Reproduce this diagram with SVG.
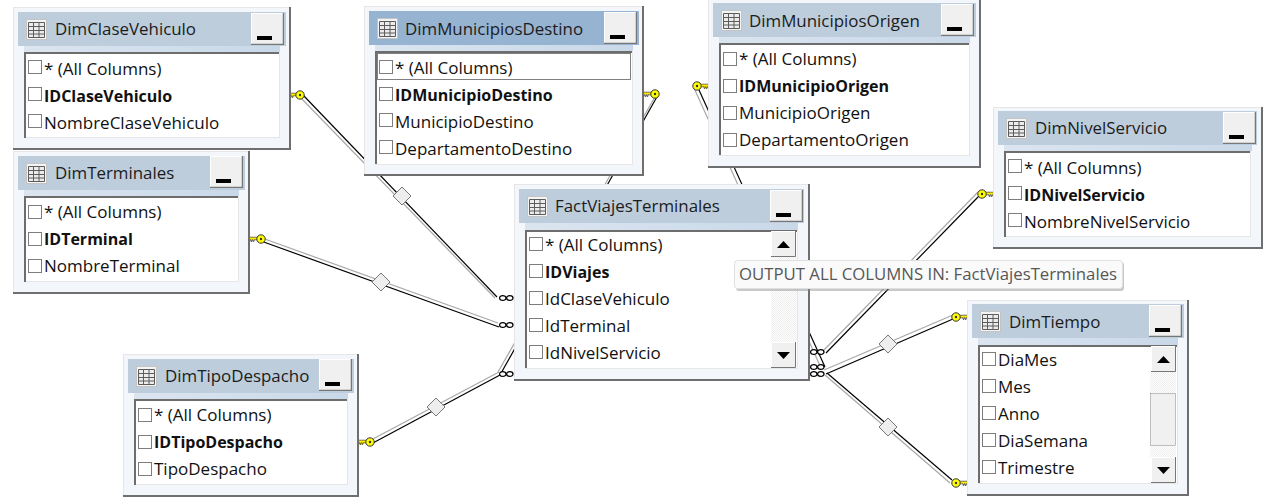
<svg xmlns="http://www.w3.org/2000/svg" width="1276" height="500" viewBox="0 0 1276 500">
<style>
text{font-family:"Open Sans","Noto Sans","Liberation Sans",sans-serif;font-size:17px;fill:#111}
.b{font-weight:700;font-size:16px}
.t{font-size:16.900px;fill:#1c1c1c}
.fr{fill:#f3f6fb;stroke:#e6e6e6;stroke-width:1}
.frd{fill:none;stroke:#6f6f6f;stroke-width:2}
.hd{fill:#bdcddb}
.hds{fill:#96b3d1}
.st{fill:url(#strip)}
.ls{fill:#fff;stroke:#e6e6e6;stroke-width:1}
.lsd{fill:none;stroke:#6d6d6d;stroke-width:2}
.cb{fill:#fff;stroke:#7d7d7d;stroke-width:1}
.g{fill:none;stroke:#a8a8a8;stroke-width:1.2}
.k{fill:none;stroke:#000;stroke-width:1.2}
.hatch{fill:url(#dither)}
.tip{fill:#fafafa;stroke:#e0e0e0;stroke-width:1}
.tipt{fill:#575757;font-size:16.750px}
</style>
<defs>
<linearGradient id="strip" x1="0" y1="0" x2="1" y2="0"><stop offset="0" stop-color="#dbe5f0"/><stop offset="1" stop-color="#c9d8e8"/></linearGradient>
<pattern id="dither" width="2" height="2" patternUnits="userSpaceOnUse"><rect width="2" height="2" fill="#fff"/><rect width="1" height="1" fill="#eee"/><rect x="1" y="1" width="1" height="1" fill="#eee"/></pattern>
<symbol id="ico" width="21" height="21" viewBox="0 0 21 21" overflow="visible">
<rect x=".5" y=".5" width="20" height="20" fill="#f4f4f4" stroke="#c4c4c4"/>
<path d="M2.5 3.5H18.5V18.5H2.5ZM2.5 7.5H18.5M2.5 11.5H18.5M2.5 15H18.5M7.5 3.5V18.5M13 3.5V18.5" fill="#ececec" stroke="#5c5c5c"/>
</symbol>
<symbol id="btn" width="33" height="32" viewBox="0 0 33 32">
<rect width="33" height="32" fill="#f0f0f0"/>
<path d="M.5 31V.5H32" fill="none" stroke="#fff"/>
<path d="M0 31.5H32.5V0" fill="none" stroke="#777" stroke-width="1.5"/>
<rect x="6" y="23" width="15" height="4" fill="#000"/>
</symbol>
<symbol id="up" width="25" height="26" viewBox="0 0 25 26">
<rect width="25" height="26" fill="#f0f0f0"/>
<path d="M.5 25V.5H24" fill="none" stroke="#fff"/>
<path d="M0 25.5H24.5V0" fill="none" stroke="#777"/>
<path d="M6 17H19L12.500 10Z" fill="#000"/>
</symbol>
<symbol id="dn" width="25" height="26" viewBox="0 0 25 26">
<rect width="25" height="26" fill="#f0f0f0"/>
<path d="M.5 25V.5H24" fill="none" stroke="#fff"/>
<path d="M0 25.5H24.5V0" fill="none" stroke="#777"/>
<path d="M6 10H19L12.500 17Z" fill="#000"/>
</symbol>
<g id="key"><path d="M3 -1.800H13V.8H12V2.400H11V.8H10V2.400H9V.8H8V2.400H7V.8H3Z" fill="#ffea00" stroke="#222" stroke-width=".6"/><circle r="4.200" fill="#ffff00" stroke="#333" stroke-width="1"/><circle r="1.200" fill="#333"/></g>
<g id="inf"><ellipse cx="3.800" cy="0" rx="3.200" ry="2.400" fill="#fff" stroke="#000" stroke-width="1.300"/><ellipse cx="10.800" cy="0" rx="3.200" ry="2.400" fill="#fff" stroke="#000" stroke-width="1.300"/></g>
<g id="dia"><path d="M0 -9L9 0L0 9L-9 0Z" fill="#eee" stroke="#777"/></g>
</defs>

<rect width="1276" height="500" fill="#fff"/>

<g id="connectors">
<path class="g" d="M300 97L495 298"/><path class="k" d="M303 95L497 297"/>
<path class="g" d="M262 238L498 323"/><path class="k" d="M261 241L499 327"/>
<path class="g" d="M371 440L499 372"/><path class="k" d="M371 444L500 375"/>
<path class="g" d="M656 95L498 372"/><path class="k" d="M658 95L500 375"/>
<path class="g" d="M694 88L822 370"/><path class="k" d="M699 90L825 367"/>
<path class="g" d="M978 192L824 350"/><path class="k" d="M979 196L826 353"/>
<path class="g" d="M953 315L824 370"/><path class="k" d="M953 319L826 374"/>
<path class="g" d="M950 483L825 375"/><path class="k" d="M952 480L827 373"/>
<use href="#dia" x="402" y="196"/>
<use href="#dia" x="381" y="282"/>
<use href="#dia" x="436" y="407"/>
<use href="#dia" x="888" y="344"/>
<use href="#dia" x="888" y="427"/>
<use href="#inf" x="499" y="298"/>
<use href="#inf" x="499" y="325"/>
<use href="#inf" x="499" y="374"/>
<use href="#inf" x="810" y="352"/>
<use href="#inf" x="810" y="367"/>
<use href="#inf" x="810" y="374"/>
<use href="#key" transform="translate(300 95) scale(-1 1)"/>
<use href="#key" transform="translate(261 239) scale(-1 1)"/>
<use href="#key" transform="translate(370 442) scale(-1 1)"/>
<use href="#key" transform="translate(655 94) scale(-1 1)"/>
<use href="#key" x="697" y="86"/>
<use href="#key" x="982" y="194"/>
<use href="#key" x="956" y="317"/>
<use href="#key" x="956" y="483"/>
</g>

<g id="DimClaseVehiculo">
<rect class="fr" x="13.500" y="7.500" width="276" height="141"/><path class="frd" d="M13 149H290V7"/>
<rect class="hd" x="18" y="12" width="268" height="34"/><rect class="st" x="24" y="46" width="256" height="6"/>
<use href="#ico" x="26" y="19"/><text class="t" x="55" y="35">DimClaseVehiculo</text><use href="#btn" x="251" y="13"/>
<rect class="ls" x="24.500" y="52.500" width="255" height="85"/><path class="lsd" d="M25 138V53H279"/>
<rect class="cb" x="28.500" y="60.500" width="13" height="13"/><text x="44" y="75">* (All Columns)</text>
<rect class="cb" x="28.500" y="87.500" width="13" height="13"/><text class="b" x="44" y="102">IDClaseVehiculo</text>
<rect class="cb" x="28.500" y="114.500" width="13" height="13"/><text x="44" y="129">NombreClaseVehiculo</text>
</g>

<g id="DimTerminales">
<rect class="fr" x="13.500" y="151.500" width="235" height="141"/><path class="frd" d="M13 293H249V151"/>
<rect class="hd" x="18" y="156" width="227" height="34"/><rect class="st" x="24" y="190" width="215" height="6"/>
<use href="#ico" x="26" y="163"/><text class="t" x="55" y="179">DimTerminales</text><use href="#btn" x="210" y="156"/>
<rect class="ls" x="24.500" y="196.500" width="214" height="85"/><path class="lsd" d="M25 282V197H238"/>
<rect class="cb" x="28.500" y="205.500" width="13" height="13"/><text x="44" y="218">* (All Columns)</text>
<rect class="cb" x="28.500" y="232.500" width="13" height="13"/><text class="b" x="44" y="245">IDTerminal</text>
<rect class="cb" x="28.500" y="259.500" width="13" height="13"/><text x="44" y="272">NombreTerminal</text>
</g>

<g id="DimTipoDespacho">
<rect class="fr" x="123.500" y="354.500" width="234" height="141"/><path class="frd" d="M123 496H358V354"/>
<rect class="hd" x="128" y="359" width="226" height="34"/><rect class="st" x="134" y="393" width="214" height="6"/>
<use href="#ico" x="136" y="366"/><text class="t" x="165" y="382">DimTipoDespacho</text><use href="#btn" x="319" y="359"/>
<rect class="ls" x="134.500" y="399.500" width="213" height="85"/><path class="lsd" d="M135 485V400H347"/>
<rect class="cb" x="138.500" y="408.500" width="13" height="13"/><text x="154" y="421">* (All Columns)</text>
<rect class="cb" x="138.500" y="435.500" width="13" height="13"/><text class="b" x="154" y="448">IDTipoDespacho</text>
<rect class="cb" x="138.500" y="462.500" width="13" height="13"/><text x="154" y="475">TipoDespacho</text>
</g>

<g id="DimMunicipiosDestino">
<rect class="fr" x="364.500" y="6.500" width="278" height="168"/><path class="frd" d="M364 175H643V6"/>
<rect class="hds" x="369" y="11" width="270" height="34"/><rect class="st" x="375" y="45" width="258" height="6"/>
<use href="#ico" x="377" y="18"/><text class="t" x="405" y="35">DimMunicipiosDestino</text><use href="#btn" x="604" y="12"/>
<rect class="ls" x="375.500" y="51.500" width="257" height="113"/><path class="lsd" d="M376 164V52H632"/>
<rect x="377.500" y="53.500" width="253" height="26" fill="none" stroke="#000" stroke-dasharray="1 1"/>
<rect class="cb" x="379.500" y="60.500" width="13" height="13"/><text x="395" y="74">* (All Columns)</text>
<rect class="cb" x="379.500" y="87.500" width="13" height="13"/><text class="b" x="395" y="101">IDMunicipioDestino</text>
<rect class="cb" x="379.500" y="113.500" width="13" height="13"/><text x="395" y="128">MunicipioDestino</text>
<rect class="cb" x="379.500" y="140.500" width="13" height="13"/><text x="395" y="155">DepartamentoDestino</text>
</g>

<g id="DimMunicipiosOrigen">
<rect class="fr" x="708.500" y="-.5" width="271" height="167"/><path class="frd" d="M708 167H980V-1"/>
<rect class="hd" x="713" y="3" width="263" height="34"/><rect class="st" x="719" y="37" width="251" height="6"/>
<use href="#ico" x="721" y="10"/><text class="t" x="749" y="27">DimMunicipiosOrigen</text><use href="#btn" x="941" y="4"/>
<rect class="ls" x="719.500" y="43.500" width="250" height="112"/><path class="lsd" d="M720 155V44H969"/>
<rect class="cb" x="723.500" y="52.500" width="13" height="13"/><text x="739" y="65">* (All Columns)</text>
<rect class="cb" x="723.500" y="79.500" width="13" height="13"/><text class="b" x="739" y="92">IDMunicipioOrigen</text>
<rect class="cb" x="723.500" y="106.500" width="13" height="13"/><text x="739" y="119">MunicipioOrigen</text>
<rect class="cb" x="723.500" y="133.500" width="13" height="13"/><text x="739" y="146">DepartamentoOrigen</text>
</g>

<g id="DimNivelServicio">
<rect class="fr" x="993.500" y="107.500" width="268" height="140"/><path class="frd" d="M993 248H1262V107"/>
<rect class="hd" x="998" y="111" width="259" height="34"/><rect class="st" x="1004" y="145" width="248" height="6"/>
<use href="#ico" x="1006" y="118"/><text class="t" x="1035" y="134">DimNivelServicio</text><use href="#btn" x="1223" y="112"/>
<rect class="ls" x="1004.500" y="151.500" width="246" height="85"/><path class="lsd" d="M1005 237V152H1250"/>
<rect class="cb" x="1008.500" y="159.500" width="13" height="13"/><text x="1024" y="174">* (All Columns)</text>
<rect class="cb" x="1008.500" y="186.500" width="13" height="13"/><text class="b" x="1024" y="201">IDNivelServicio</text>
<rect class="cb" x="1008.500" y="213.500" width="13" height="13"/><text x="1024" y="228">NombreNivelServicio</text>
</g>

<g id="DimTiempo">
<rect class="fr" x="967.500" y="300.500" width="220" height="194"/><path class="frd" d="M967 495H1188V300"/>
<rect class="hd" x="972" y="304" width="212" height="34"/><rect class="st" x="978" y="338" width="200" height="7"/>
<use href="#ico" x="980" y="311"/><text class="t" x="1009" y="328">DimTiempo</text><use href="#btn" x="1149" y="305"/>
<rect class="ls" x="978.500" y="345.500" width="199" height="138"/><path class="lsd" d="M979 483V346H1177"/>
<rect class="hatch" x="1150" y="372" width="26" height="85"/>
<use href="#up" x="1151" y="346"/>
<rect x="1150.500" y="393.500" width="25" height="52" fill="#f0f0f0" stroke="#8a8a8a" stroke-width=".5"/>
<use href="#dn" x="1151" y="457"/>
<rect class="cb" x="982.500" y="352.500" width="13" height="13"/><text x="998" y="366">DiaMes</text>
<rect class="cb" x="982.500" y="379.500" width="13" height="13"/><text x="998" y="393">Mes</text>
<rect class="cb" x="982.500" y="406.500" width="13" height="13"/><text x="998" y="420">Anno</text>
<rect class="cb" x="982.500" y="433.500" width="13" height="13"/><text x="998" y="447">DiaSemana</text>
<rect class="cb" x="982.500" y="460.500" width="13" height="13"/><text x="998" y="474">Trimestre</text>
</g>

<g id="FactViajesTerminales">
<rect class="fr" x="514.500" y="184.500" width="294" height="195"/><path class="frd" d="M514 380H809V184"/>
<rect class="hd" x="519" y="189" width="285" height="34"/><rect class="st" x="525" y="223" width="273" height="7"/>
<use href="#ico" x="527" y="196"/><text class="t" x="555" y="212">FactViajesTerminales</text><use href="#btn" x="770" y="190"/>
<rect class="ls" x="525.500" y="230.500" width="272" height="138"/><path class="lsd" d="M526 368V231H797"/>
<rect class="hatch" x="771" y="257" width="26" height="85"/>
<use href="#up" x="771" y="231"/>
<use href="#dn" x="771" y="342"/>
<rect class="cb" x="529.500" y="237.500" width="13" height="13"/><text x="545" y="251">* (All Columns)</text>
<rect class="cb" x="529.500" y="264.500" width="13" height="13"/><text class="b" x="545" y="278">IDViajes</text>
<rect class="cb" x="529.500" y="291.500" width="13" height="13"/><text x="545" y="305">IdClaseVehiculo</text>
<rect class="cb" x="529.500" y="318.500" width="13" height="13"/><text x="545" y="332">IdTerminal</text>
<rect class="cb" x="529.500" y="345.500" width="13" height="13"/><text x="545" y="359">IdNivelServicio</text>
</g>

<g id="tooltip">
<rect x="736" y="262" width="388" height="29" rx="3" fill="#888" opacity=".45"/>
<rect class="tip" x="734.500" y="260.500" width="388" height="28" rx="3"/>
<text class="tipt" x="739" y="280">OUTPUT ALL COLUMNS IN: FactViajesTerminales</text>
</g>
</svg>
